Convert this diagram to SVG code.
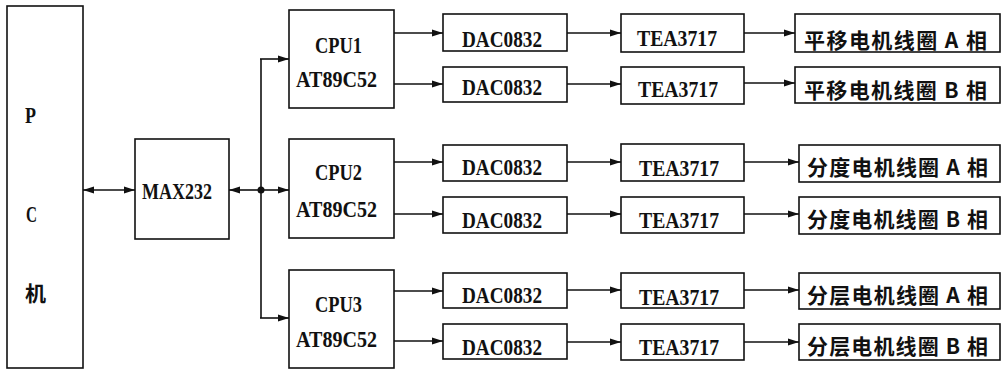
<svg xmlns="http://www.w3.org/2000/svg" width="1006" height="370" viewBox="0 0 1006 370">
<style>
.box{fill:#fff;stroke:#111;stroke-width:1.6}
.t{font-family:"Liberation Serif",serif;font-weight:bold;font-size:23px;fill:#111}
.c{font-family:"Noto Sans CJK SC",sans-serif;font-weight:bold;font-size:21px;fill:#111}
.ln{stroke:#111;stroke-width:1.6;fill:none}
</style>
<defs>
<marker id="ah" markerUnits="userSpaceOnUse" markerWidth="12" markerHeight="8" refX="11" refY="4" orient="auto-start-reverse">
<path d="M0,0.5 L11,4 L0,7.5 z" fill="#111"/>
</marker>
</defs>
<rect width="1006" height="370" fill="#fff"/>
<g id="pc"><rect class="box" x="7" y="6" width="76" height="362"/>
<text class="t" x="25" y="123" textLength="11" lengthAdjust="spacingAndGlyphs">P</text>
<text class="t" x="26" y="222" textLength="11" lengthAdjust="spacingAndGlyphs">C</text>
<text class="c" x="25" y="301">机</text></g>
<g id="max232"><rect class="box" x="135" y="139" width="94" height="100"/>
<text class="t" x="142" y="199" textLength="70" lengthAdjust="spacingAndGlyphs">MAX232</text></g>
<g id="cpu1"><rect class="box" x="289" y="10" width="105" height="98"/>
<text class="t" x="315" y="53" textLength="47" lengthAdjust="spacingAndGlyphs">CPU1</text>
<text class="t" x="296" y="87" textLength="81" lengthAdjust="spacingAndGlyphs">AT89C52</text></g>
<g id="cpu2"><rect class="box" x="289" y="139" width="105" height="99"/>
<text class="t" x="315" y="180" textLength="47" lengthAdjust="spacingAndGlyphs">CPU2</text>
<text class="t" x="296" y="217" textLength="81" lengthAdjust="spacingAndGlyphs">AT89C52</text></g>
<g id="cpu3"><rect class="box" x="289" y="270" width="105" height="98"/>
<text class="t" x="315" y="312" textLength="47" lengthAdjust="spacingAndGlyphs">CPU3</text>
<text class="t" x="296" y="347" textLength="81" lengthAdjust="spacingAndGlyphs">AT89C52</text></g>
<g id="dac1"><rect class="box" x="443" y="14" width="124" height="37"/><text class="t" x="462" y="47" textLength="80" lengthAdjust="spacingAndGlyphs">DAC0832</text></g>
<g id="dac2"><rect class="box" x="443" y="67" width="124" height="35"/><text class="t" x="462" y="95" textLength="80" lengthAdjust="spacingAndGlyphs">DAC0832</text></g>
<g id="dac3"><rect class="box" x="443" y="145" width="124" height="36"/><text class="t" x="462" y="175" textLength="80" lengthAdjust="spacingAndGlyphs">DAC0832</text></g>
<g id="dac4"><rect class="box" x="443" y="197" width="124" height="36"/><text class="t" x="462" y="228" textLength="80" lengthAdjust="spacingAndGlyphs">DAC0832</text></g>
<g id="dac5"><rect class="box" x="443" y="273" width="124" height="35"/><text class="t" x="462" y="303" textLength="80" lengthAdjust="spacingAndGlyphs">DAC0832</text></g>
<g id="dac6"><rect class="box" x="443" y="324" width="124" height="35"/><text class="t" x="462" y="355" textLength="80" lengthAdjust="spacingAndGlyphs">DAC0832</text></g>
<g id="tea1"><rect class="box" x="621" y="14" width="123" height="38"/><text class="t" x="637" y="46" textLength="80" lengthAdjust="spacingAndGlyphs">TEA3717</text></g>
<g id="tea2"><rect class="box" x="621" y="67" width="123" height="37"/><text class="t" x="638" y="97" textLength="80" lengthAdjust="spacingAndGlyphs">TEA3717</text></g>
<g id="tea3"><rect class="box" x="621" y="144" width="123" height="37"/><text class="t" x="639" y="176" textLength="80" lengthAdjust="spacingAndGlyphs">TEA3717</text></g>
<g id="tea4"><rect class="box" x="621" y="197" width="123" height="36"/><text class="t" x="639" y="228" textLength="80" lengthAdjust="spacingAndGlyphs">TEA3717</text></g>
<g id="tea5"><rect class="box" x="621" y="273" width="123" height="35"/><text class="t" x="639" y="305" textLength="80" lengthAdjust="spacingAndGlyphs">TEA3717</text></g>
<g id="tea6"><rect class="box" x="621" y="324" width="123" height="36"/><text class="t" x="639" y="355" textLength="80" lengthAdjust="spacingAndGlyphs">TEA3717</text></g>
<g id="out1"><rect class="box" x="795" y="14" width="205" height="38"/><text class="c" x="804" y="48" textLength="183" lengthAdjust="spacing">平移电机线圈 A 相</text></g>
<g id="out2"><rect class="box" x="795" y="67" width="205" height="36"/><text class="c" x="804" y="98" textLength="183" lengthAdjust="spacing">平移电机线圈 B 相</text></g>
<g id="out3"><rect class="box" x="799" y="145" width="201" height="37"/><text class="c" x="807" y="175" textLength="181" lengthAdjust="spacing">分度电机线圈 A 相</text></g>
<g id="out4"><rect class="box" x="799" y="197" width="201" height="37"/><text class="c" x="807" y="227" textLength="181" lengthAdjust="spacing">分度电机线圈 B 相</text></g>
<g id="out5"><rect class="box" x="799" y="273" width="201" height="36"/><text class="c" x="807" y="303" textLength="181" lengthAdjust="spacing">分层电机线圈 A 相</text></g>
<g id="out6"><rect class="box" x="799" y="324" width="201" height="36"/><text class="c" x="807" y="354" textLength="181" lengthAdjust="spacing">分层电机线圈 B 相</text></g>
<g id="connectors">
<line class="ln" x1="83" y1="190" x2="135" y2="190" marker-start="url(#ah)" marker-end="url(#ah)"/>
<line class="ln" x1="261" y1="190" x2="229" y2="190" marker-end="url(#ah)"/>
<line class="ln" x1="261" y1="190" x2="289" y2="190" marker-end="url(#ah)"/>
<circle cx="261" cy="190" r="3.5" fill="#111"/>
<line class="ln" x1="261" y1="59" x2="261" y2="318"/>
<line class="ln" x1="260" y1="59" x2="289" y2="59" marker-end="url(#ah)"/>
<line class="ln" x1="260" y1="318" x2="289" y2="318" marker-end="url(#ah)"/>
<line class="ln" x1="394" y1="33" x2="443" y2="33" marker-end="url(#ah)"/>
<line class="ln" x1="394" y1="84" x2="443" y2="84" marker-end="url(#ah)"/>
<line class="ln" x1="394" y1="162" x2="443" y2="162" marker-end="url(#ah)"/>
<line class="ln" x1="394" y1="214" x2="443" y2="214" marker-end="url(#ah)"/>
<line class="ln" x1="394" y1="291" x2="443" y2="291" marker-end="url(#ah)"/>
<line class="ln" x1="394" y1="341" x2="443" y2="341" marker-end="url(#ah)"/>
<line class="ln" x1="567" y1="33" x2="621" y2="33" marker-end="url(#ah)"/>
<line class="ln" x1="567" y1="84" x2="621" y2="84" marker-end="url(#ah)"/>
<line class="ln" x1="567" y1="162" x2="621" y2="162" marker-end="url(#ah)"/>
<line class="ln" x1="567" y1="214" x2="621" y2="214" marker-end="url(#ah)"/>
<line class="ln" x1="567" y1="290" x2="621" y2="290" marker-end="url(#ah)"/>
<line class="ln" x1="567" y1="342" x2="621" y2="342" marker-end="url(#ah)"/>
<line class="ln" x1="744" y1="33" x2="795" y2="33" marker-end="url(#ah)"/>
<line class="ln" x1="744" y1="83" x2="795" y2="83" marker-end="url(#ah)"/>
<line class="ln" x1="744" y1="162" x2="799" y2="162" marker-end="url(#ah)"/>
<line class="ln" x1="744" y1="214" x2="799" y2="214" marker-end="url(#ah)"/>
<line class="ln" x1="744" y1="290" x2="799" y2="290" marker-end="url(#ah)"/>
<line class="ln" x1="744" y1="342" x2="799" y2="342" marker-end="url(#ah)"/>
</g>
</svg>
